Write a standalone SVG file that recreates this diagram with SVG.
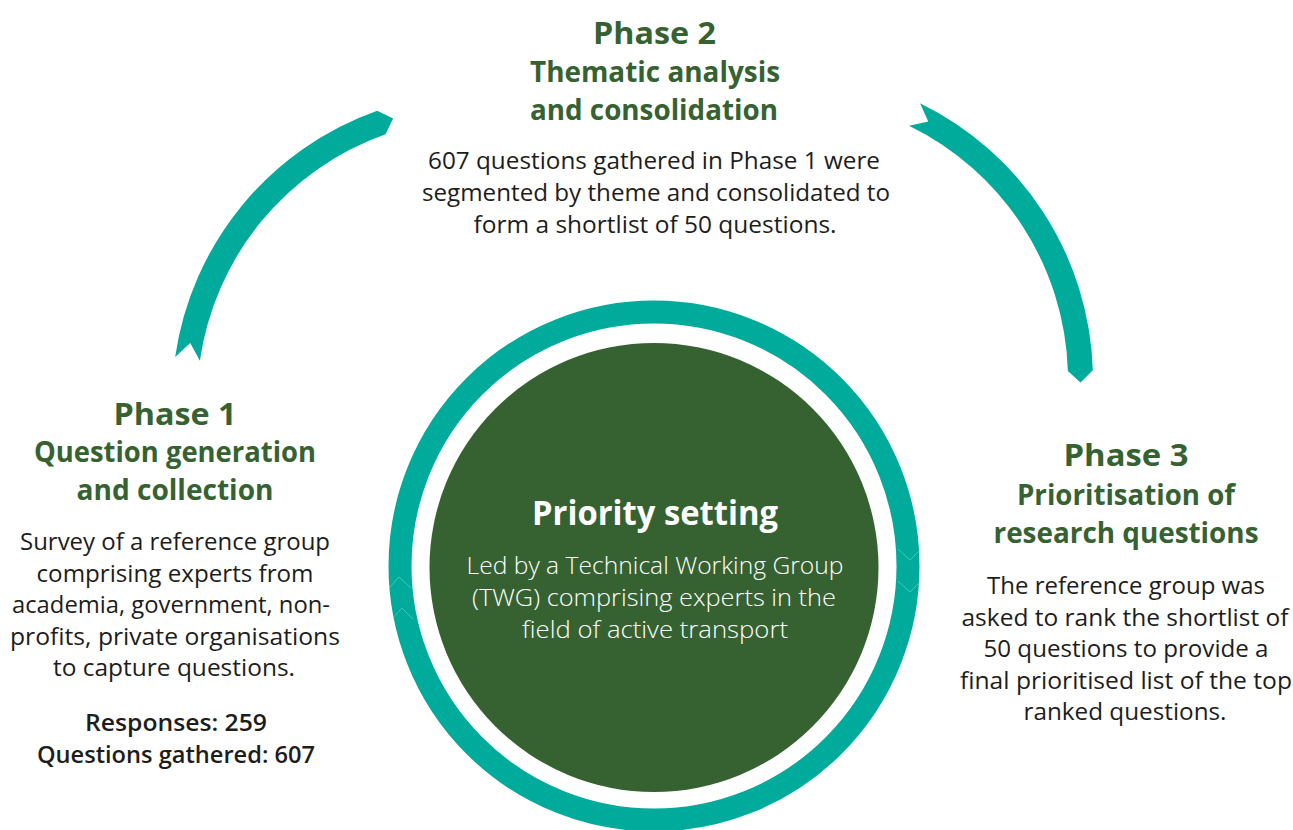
<svg xmlns="http://www.w3.org/2000/svg" width="1293" height="830" viewBox="0 0 1293 830">
  <style>
    text { text-anchor: middle; font-family: "Open Sans", "Noto Sans", "Liberation Sans", sans-serif; }
    .phase { font-size: 31px; font-weight: 700; fill: #366232; }
    .sub { font-size: 28px; font-weight: 700; fill: #366232; }
    .body { font-size: 24px; font-weight: 400; fill: #1d1d1b; }
    .stat { font-size: 24px; font-weight: 600; fill: #1d1d1b; }
    .ctitle { font-size: 34px; font-weight: 700; fill: #ffffff; }
    .cbody { font-size: 24px; font-weight: 300; fill: #ffffff; }
    .arrow { fill: #00ab9b; }
    .seam { fill: none; stroke: #ffffff; stroke-opacity: 0.35; stroke-width: 0.8; }
  </style>

  <!-- curved arrows between phases -->
  <g id="connectors">
    <path id="arrow-1-2" class="arrow" d="M175.15,357.07 A308,308 0 0 1 377.19,110.67 L393.11,118.56 L385.53,134.23 A283,283 0 0 0 199.89,360.64 L190.23,343.10 Z"/>
    <path id="arrow-2-3" class="arrow" d="M920.02,103.17 A308,308 0 0 1 1092.85,370.33 L1080.49,382.58 L1067.86,371.11 A283,283 0 0 0 909.06,125.64 L928.26,121.55 Z"/>
  </g>

  <!-- central hub: teal ring with green disc -->
  <g id="priority-setting">
    <circle cx="654" cy="566" r="254" fill="none" stroke="#00ab9b" stroke-width="23"/>
    <path class="seam" d="M389,588 L399,577 L411,588 M392,619 L402,608 L413,619"/>
    <path class="seam" d="M898,549 L910,560 L921,549 M898,581 L910,592 L921,581"/>
    <circle cx="654" cy="567.5" r="224.5" fill="#366232"/>
    <text class="ctitle" x="655" y="525" textLength="246" lengthAdjust="spacingAndGlyphs">Priority setting</text>
    <text class="cbody" x="655" y="573.5" textLength="377" lengthAdjust="spacingAndGlyphs">Led by a Technical Working Group</text>
    <text class="cbody" x="654" y="606" textLength="364" lengthAdjust="spacingAndGlyphs">(TWG) comprising experts in the</text>
    <text class="cbody" x="655" y="638" textLength="266" lengthAdjust="spacingAndGlyphs">field of active transport</text>
  </g>

  <g id="phase-1">
    <text class="phase" x="175" y="425" textLength="123" lengthAdjust="spacingAndGlyphs">Phase 1</text>
    <text class="sub" x="175" y="462" textLength="282" lengthAdjust="spacingAndGlyphs">Question generation</text>
    <text class="sub" x="175" y="500" textLength="197" lengthAdjust="spacingAndGlyphs">and collection</text>
    <text class="body" x="175" y="550" textLength="310" lengthAdjust="spacingAndGlyphs">Survey of a reference group</text>
    <text class="body" x="175" y="581.5" textLength="277" lengthAdjust="spacingAndGlyphs">comprising experts from</text>
    <text class="body" x="171" y="613" textLength="318" lengthAdjust="spacingAndGlyphs">academia, government, non-</text>
    <text class="body" x="175" y="644.5" textLength="330" lengthAdjust="spacingAndGlyphs">profits, private organisations</text>
    <text class="body" x="174" y="676" textLength="242" lengthAdjust="spacingAndGlyphs">to capture questions.</text>
    <text class="stat" x="176" y="731" textLength="182" lengthAdjust="spacingAndGlyphs">Responses: 259</text>
    <text class="stat" x="176" y="763" textLength="278" lengthAdjust="spacingAndGlyphs">Questions gathered: 607</text>
  </g>

  <g id="phase-2">
    <text class="phase" x="654.5" y="44" textLength="123" lengthAdjust="spacingAndGlyphs">Phase 2</text>
    <text class="sub" x="655" y="82" textLength="250" lengthAdjust="spacingAndGlyphs">Thematic analysis</text>
    <text class="sub" x="654" y="120" textLength="248" lengthAdjust="spacingAndGlyphs">and consolidation</text>
    <text class="body" x="654" y="169" textLength="452" lengthAdjust="spacingAndGlyphs">607 questions gathered in Phase 1 were</text>
    <text class="body" x="656" y="201" textLength="468" lengthAdjust="spacingAndGlyphs">segmented by theme and consolidated to</text>
    <text class="body" x="655" y="232.5" textLength="363" lengthAdjust="spacingAndGlyphs">form a shortlist of 50 questions.</text>
  </g>

  <g id="phase-3">
    <text class="phase" x="1126" y="466" textLength="125" lengthAdjust="spacingAndGlyphs">Phase 3</text>
    <text class="sub" x="1126" y="505" textLength="218" lengthAdjust="spacingAndGlyphs">Prioritisation of</text>
    <text class="sub" x="1126" y="543" textLength="265" lengthAdjust="spacingAndGlyphs">research questions</text>
    <text class="body" x="1126" y="594" textLength="278" lengthAdjust="spacingAndGlyphs">The reference group was</text>
    <text class="body" x="1125" y="625.5" textLength="327" lengthAdjust="spacingAndGlyphs">asked to rank the shortlist of</text>
    <text class="body" x="1126" y="657" textLength="285" lengthAdjust="spacingAndGlyphs">50 questions to provide a</text>
    <text class="body" x="1126" y="688.5" textLength="332" lengthAdjust="spacingAndGlyphs">final prioritised list of the top</text>
    <text class="body" x="1125" y="720" textLength="203" lengthAdjust="spacingAndGlyphs">ranked questions.</text>
  </g>
</svg>
